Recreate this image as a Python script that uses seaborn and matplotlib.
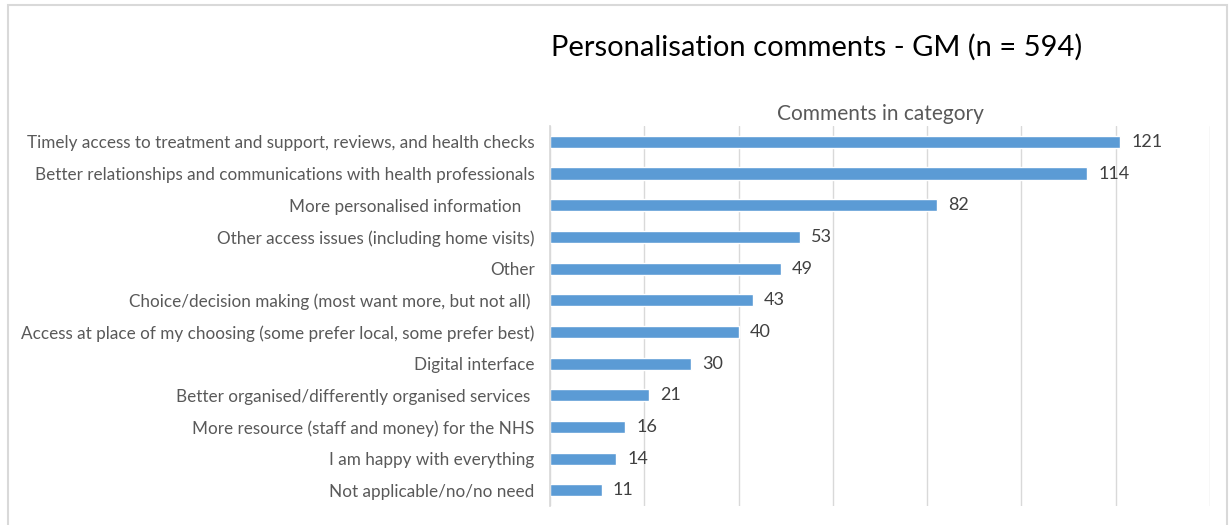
import matplotlib
matplotlib.use("Agg")
import matplotlib.pyplot as plt
import matplotlib.patches as mpatches
import seaborn as sns
import pandas as pd

# dane
categories = [
    "Timely access to treatment and support, reviews, and health checks",
    "Better relationships and communications with health professionals",
    "More personalised information   ",
    "Other access issues (including home visits)",
    "Other",
    "Choice/decision making (most want more, but not all) ",
    "Access at place of my choosing (some prefer local, some prefer best)",
    "Digital interface",
    "Better organised/differently organised services ",
    "More resource (staff and money) for the NHS",
    "I am happy with everything",
    "Not applicable/no/no need",
]
counts = [121, 114, 82, 53, 49, 43, 40, 30, 21, 16, 14, 11]
x_ticks = [0, 20, 40, 60, 80, 100, 120, 140]

df = pd.DataFrame({"category": categories, "count": counts})

sns.set_theme(style="white")
plt.rcParams["font.family"] = ["Lato", "DejaVu Sans"]

fig = plt.figure(figsize=(12.31, 5.25), dpi=100)
ax = fig.add_axes([0.4468, 0.036, 0.5362, 0.724])

sns.barplot(data=df, y="category", x="count", orient="h", color="#5B9BD5",
            width=0.38, saturation=1, ax=ax)

ax.set_xlim(0, 140)
ax.set_xticks(x_ticks)
ax.set_xticklabels([])
ax.tick_params(axis="x", length=0)
ax.tick_params(axis="y", length=0, pad=11, labelsize=12.3, labelcolor="#595959")
ax.grid(axis="x", color="#D9D9D9", linewidth=1)
ax.set_axisbelow(True)
for s in ["top", "right", "bottom"]:
    ax.spines[s].set_visible(False)
ax.spines["left"].set_color("#D9D9D9")
ax.set_ylabel("")
ax.set_xlabel("Comments in category", fontsize=15, color="#595959", labelpad=4)
ax.xaxis.set_label_position("top")

# etykiety wartości
for cont in ax.containers:
    ax.bar_label(cont, padding=8, fontsize=13, color="#404040")

fig.text(0.663, 0.91, "Personalisation comments - GM (n = 594)", ha="center",
         va="center", fontsize=21, color="black")

# ramka wokół wykresu
fig.patches.append(mpatches.Rectangle((0.0065, -0.01), 0.99, 1.0, transform=fig.transFigure,
                                      fill=False, edgecolor="#D9D9D9", linewidth=1.5))

fig.savefig("out.png", dpi=100)
